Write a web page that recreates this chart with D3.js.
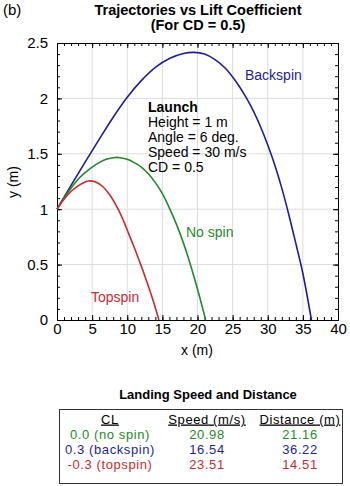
<!DOCTYPE html>
<html><head><meta charset="utf-8">
<script src="https://cdn.jsdelivr.net/npm/d3@7"></script>
<style>body{margin:0;background:#fff;} svg{display:block;font-family:"Liberation Sans",Arial,sans-serif;}</style>
</head><body>
<script>
const xTicks = [0,5,10,15,20,25,30,35,40];
const yTicks = [0,0.5,1,1.5,2,2.5];
const yTickLabels = ["0","0.5","1","1.5","2","2.5"];
const backspinX = [0,2,4,6,8,10,12,14,16,18,19.5,21,22.5,24,25.5,27,28,29,30,31,32,33,34,35,36.22];
const backspinY = [1,1.215,1.425,1.63,1.83,2.01,2.16,2.28,2.36,2.405,2.415,2.4,2.35,2.27,2.15,2.0,1.88,1.74,1.58,1.4,1.19,0.95,0.69,0.42,0];
const nospinX = [0,1,2,3,4,5,6,7,8,8.5,9,10,11,12,13,14,15,16,16.5,17.4,18.5,19.5,20.3,21.16];
const nospinY = [1,1.1,1.19,1.27,1.33,1.38,1.42,1.45,1.465,1.468,1.465,1.45,1.42,1.38,1.32,1.24,1.14,1.01,0.94,0.8,0.6,0.39,0.21,0];
const topspinX = [0,1,2,3,4,4.5,5.5,6.5,7.5,8.7,9.5,10.2,11,11.8,12.6,13.3,13.9,14.51];
const topspinY = [1,1.09,1.16,1.21,1.245,1.255,1.245,1.205,1.13,1.0,0.89,0.78,0.655,0.52,0.38,0.25,0.13,0];
const seriesNames = ["Backspin","No spin","Topspin"];
const launchLines = ["Height = 1 m","Angle = 6 deg.","Speed = 30 m/s","CD = 0.5"];
const tableHeaders = ["CL","Speed (m/s)","Distance (m)"];
const tableCL = ["0.0 (no spin)","0.3 (backspin)","-0.3 (topspin)"];
const tableSpeed = ["20.98","16.54","23.51"];
const tableDist = ["21.16","36.22","14.51"];

const W=350,H=486;
const blue="#1e1e9a", green="#1f8a2a", red="#cc2a2e";
const svg=d3.select("body").append("svg").attr("width",W).attr("height",H);
const x=d3.scaleLinear().domain([0,40]).range([57,338]);
const y=d3.scaleLinear().domain([0,2.5]).range([320,43]);

const g=svg.append("g");
g.selectAll("line.gx").data(xTicks.slice(1,-1)).enter().append("line")
 .attr("x1",d=>x(d)).attr("x2",d=>x(d)).attr("y1",y(0)).attr("y2",y(2.5))
 .attr("stroke","#dcdcdc").attr("stroke-width",1);
g.selectAll("line.gy").data(yTicks.slice(1,-1)).enter().append("line")
 .attr("y1",d=>y(d)).attr("y2",d=>y(d)).attr("x1",x(0)).attr("x2",x(40))
 .attr("stroke","#dcdcdc").attr("stroke-width",1);

const minorX=d3.range(0,41,1), minorY=d3.range(0,26,1).map(d=>d/10);
function ax(axisFn, scale, vals, size, fmt, tr){
  const a=axisFn(scale).tickValues(vals).tickSizeInner(size).tickSizeOuter(0).tickPadding(4);
  if(fmt) a.tickFormat(fmt); else a.tickFormat("");
  const sel=svg.append("g").attr("transform",tr).call(a);
  sel.select(".domain").attr("stroke","#000");
  sel.selectAll(".tick line").attr("stroke","#000");
  sel.selectAll("text").attr("font-size",15).attr("fill","#000").attr("font-family","'Liberation Sans',Arial,sans-serif");
  return sel;
}
const xb=ax(d3.axisBottom,x,xTicks,-5,d=>d,`translate(0,${y(0)})`);
xb.selectAll("text").attr("dy","0").attr("y",14);
ax(d3.axisBottom,x,minorX,-3,null,`translate(0,${y(0)})`);
ax(d3.axisTop,x,xTicks,-5,null,`translate(0,${y(2.5)})`);
ax(d3.axisTop,x,minorX,-3,null,`translate(0,${y(2.5)})`);
const yl=ax(d3.axisLeft,y,yTicks,-5,(d,i)=>yTickLabels[i],`translate(${x(0)},0)`);
yl.selectAll("text").attr("x",-9);
ax(d3.axisLeft,y,minorY,-3,null,`translate(${x(0)},0)`);
ax(d3.axisRight,y,yTicks,-5,null,`translate(${x(40)},0)`);
ax(d3.axisRight,y,minorY,-3,null,`translate(${x(40)},0)`);

const line=d3.line().x(d=>x(d[0])).y(d=>y(d[1])).curve(d3.curveCatmullRom.alpha(0.5));
const series=[[backspinX,backspinY,blue],[nospinX,nospinY,green],[topspinX,topspinY,red]];
series.forEach(([xs,ys,c])=>{
  svg.append("path").attr("d",line(xs.map((v,i)=>[v,ys[i]]))).attr("fill","none")
   .attr("stroke",c).attr("stroke-width",1.6);
});

svg.append("text").attr("x",245).attr("y",80).attr("fill",blue).attr("font-size",14).text(seriesNames[0]);
svg.append("text").attr("x",186).attr("y",237).attr("fill",green).attr("font-size",14).text(seriesNames[1]);
svg.append("text").attr("x",91).attr("y",302).attr("fill",red).attr("font-size",14).text(seriesNames[2]);

svg.append("text").attr("x",148).attr("y",112).attr("font-size",14).attr("font-weight","bold").text("Launch");
launchLines.forEach((t,i)=>svg.append("text").attr("x",148).attr("y",127+i*15).attr("font-size",14).text(t));

svg.append("text").attr("x",3).attr("y",15).attr("font-size",15).text("(b)");
svg.append("text").attr("x",198).attr("y",15).attr("text-anchor","middle").attr("font-size",14.5).attr("font-weight","bold").text("Trajectories vs Lift Coefficient");
svg.append("text").attr("x",198).attr("y",30).attr("text-anchor","middle").attr("font-size",14.5).attr("font-weight","bold").text("(For CD = 0.5)");
svg.append("text").attr("x",197).attr("y",355).attr("text-anchor","middle").attr("font-size",14).text("x (m)");
svg.append("text").attr("transform","translate(18,182) rotate(-90)").attr("text-anchor","middle").attr("font-size",14).text("y (m)");

svg.append("text").attr("x",208).attr("y",399).attr("text-anchor","middle").attr("font-size",13).attr("font-weight","bold").text("Landing Speed and Distance");
svg.append("rect").attr("x",59.5).attr("y",409.5).attr("width",283).attr("height",74).attr("fill","none").attr("stroke","#333").attr("stroke-width",1);
const colX=[110,207,300];
tableHeaders.forEach((t,i)=>svg.append("text").attr("x",colX[i]).attr("y",423.5).attr("text-anchor","middle").attr("font-size",13).attr("letter-spacing",0.6).attr("text-decoration","underline").text(t));
const rowColors=[green,blue,red];
[tableCL,tableSpeed,tableDist].forEach((col,ci)=>{
  col.forEach((t,ri)=>svg.append("text").attr("x",colX[ci]).attr("y",439+ri*14.8).attr("text-anchor","middle").attr("font-size",13).attr("letter-spacing",0.6).attr("fill",rowColors[ri]).text(t));
});
</script>
</body></html>
